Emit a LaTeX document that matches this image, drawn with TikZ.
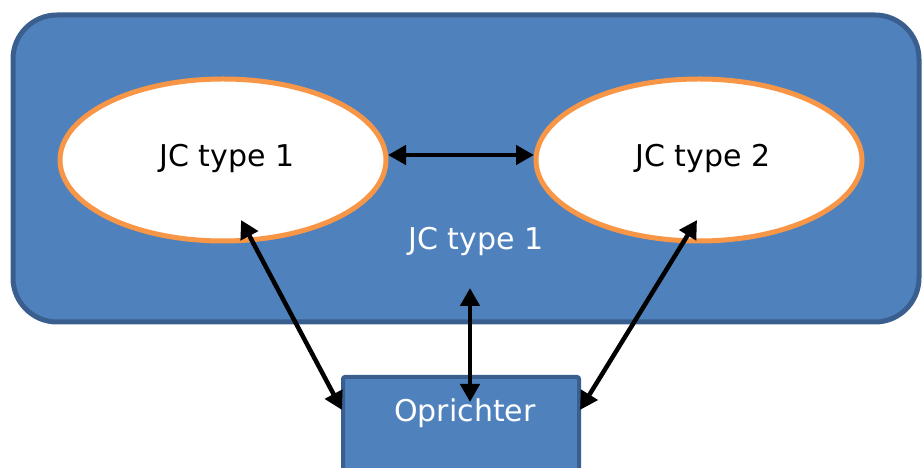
\documentclass[tikz,border=0pt]{standalone}
\usepackage{fontspec}
\setmainfont{DejaVu Sans}
\usetikzlibrary{arrows.meta,shapes.geometric}
\definecolor{boxblue}{HTML}{4F81BD}
\definecolor{edgeblue}{HTML}{3A5F8F}
\definecolor{jcorange}{HTML}{F79646}
\tikzset{
  jcell/.style={ellipse, draw=jcorange, line width=5pt, fill=white,
    minimum width=326pt, minimum height=162pt, inner sep=0pt},
  link/.style={line width=4.5pt, black, {Triangle[length=18pt,width=19pt]}-{Triangle[length=18pt,width=19pt]}},
  lbl/.style={font=\fontsize{30}{36}\selectfont}
}
\begin{document}
\begin{tikzpicture}[x=1pt,y=1pt]
\useasboundingbox (0,0) rectangle (922,468);
\clip (0,0) rectangle (922,468);
% outer container
\draw[fill=boxblue, draw=edgeblue, line width=5pt, rounded corners=44pt] (13,453) rectangle (919,146);
\node[lbl, text=white] (mid) at (476,227) {JC type 1};
% ellipses
\node[jcell] (L) at (223,308) {};
\node[jcell] (R) at (699,308) {};
\node[lbl] (Lt) at (227,310) {JC type 1};
\node[lbl] (Rt) at (703,310) {JC type 2};
% founder box
\draw[fill=boxblue, draw=edgeblue, line width=4pt, rounded corners=2pt] (343,91) rectangle (579,-20);
\node[lbl, text=white] (op) at (465,55) {Oprichter};
% anchors for connectors
\coordinate (la) at (241,248);
\coordinate (lb) at (342,58);
\coordinate (ra) at (697,248);
\coordinate (rb) at (580,58);
\coordinate (ma) at (470,180);
\coordinate (mb) at (470,66);
\coordinate (ha) at (388,313);
\coordinate (hb) at (534,313);
\draw[link] (ha) -- (hb);
\draw[link] (la) -- (lb);
\draw[link] (ra) -- (rb);
\draw[link] (ma) -- (mb);
\end{tikzpicture}
\end{document}
